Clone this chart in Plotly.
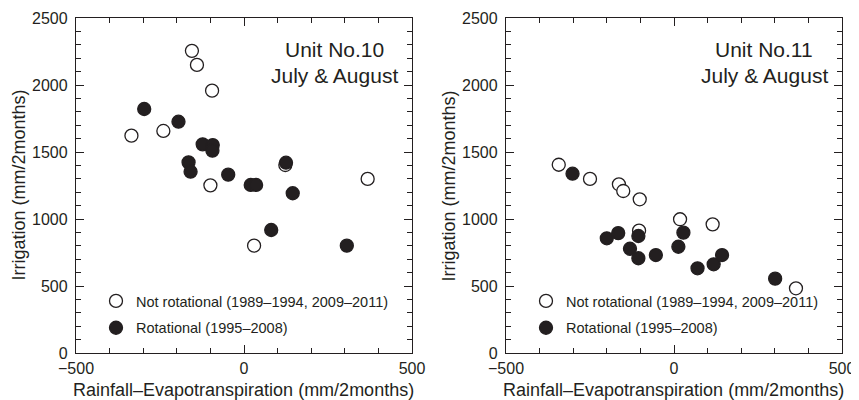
import plotly.graph_objects as go

# Unit No.10
u10_not_x = [-155, -140, -95, -335, -240, -100, 123, 368, 30]
u10_not_y = [2255, 2150, 1958, 1622, 1657, 1251, 1403, 1299, 801]
u10_rot_x = [-297, -195, -123, -93, -94, -165, -159, -47, 20, 36, 125, 145, 81, 306]
u10_rot_y = [1821, 1726, 1557, 1552, 1510, 1423, 1353, 1331, 1254, 1254, 1420, 1192, 918, 801]

# Unit No.11
u11_not_x = [-343, -250, -164, -151, -102, -104, 18, 115, 363]
u11_not_y = [1405, 1299, 1259, 1209, 1147, 913, 998, 960, 483]
u11_rot_x = [-302, -200, -166, -131, -106, -106, -54, 13, 28, 70, 118, 143, 301]
u11_rot_y = [1338, 856, 895, 778, 873, 707, 731, 793, 898, 632, 662, 731, 555]

titles = [("Unit No.10", "July & August"), ("Unit No.11", "July & August")]
legend_names = ["Not rotational (1989–1994, 2009–2011)", "Rotational (1995–2008)"]
x_title = "Rainfall–Evapotranspiration (mm/2months)"
y_title = "Irrigation (mm/2months)"

FONT = "Liberation Sans, Arial, Helvetica, sans-serif"
INK = "#231f20"
OFF = 8  # page body margin
W, H = 859 - OFF, 400 - OFF


def px(xp):
    return (xp - OFF) / W


def py(yp):
    return 1 - (yp - OFF) / H


fig = go.Figure()


def add_panel(i, nx, ny, rx, ry):
    xa = "x" if i == 0 else "x2"
    ya = "y" if i == 0 else "y2"
    lg = "legend" if i == 0 else "legend2"
    fig.add_trace(go.Scatter(
        x=nx, y=ny, mode="markers", name=legend_names[0], xaxis=xa, yaxis=ya,
        legend=lg, legendgroup=f"a{i}",
        marker=dict(size=13, color="white", line=dict(color=INK, width=1.3))))
    fig.add_trace(go.Scatter(
        x=rx, y=ry, mode="markers", name=legend_names[1], xaxis=xa, yaxis=ya,
        legend=lg, legendgroup=f"b{i}",
        marker=dict(size=13, color=INK, line=dict(color=INK, width=1.3))))


add_panel(0, u10_not_x, u10_not_y, u10_rot_x, u10_rot_y)
add_panel(1, u11_not_x, u11_not_y, u11_rot_x, u11_rot_y)

frames_px = [(76, 412), (506, 842)]
x_domains = [[px(a), px(b)] for a, b in frames_px]
y_domain = [py(353), py(18)]

axis_common = dict(
    showline=True, linecolor=INK, linewidth=1.3, mirror="ticks",
    ticks="inside", ticklen=8, tickwidth=1.3, tickcolor=INK,
    showgrid=False, zeroline=False,
    tickfont=dict(family=FONT, size=16, color=INK),
    minor=dict(ticks="inside", ticklen=5, tickwidth=1.3, tickcolor=INK, showgrid=False),
)

layout = dict(
    width=W, height=H, margin=dict(l=0, r=0, t=0, b=0),
    paper_bgcolor="white", plot_bgcolor="white",
    font=dict(family=FONT, color=INK),
    showlegend=True,
)
for i in range(2):
    sx = "" if i == 0 else "2"
    layout["xaxis" + sx] = dict(axis_common, domain=x_domains[i], range=[-500, 500],
                                dtick=500, tick0=0, minor_dtick=100,
                                anchor="y" + sx, automargin=False, ticklabelstandoff=1)
    layout["yaxis" + sx] = dict(axis_common, domain=y_domain, range=[0, 2500],
                                dtick=500, tick0=0, minor_dtick=100,
                                anchor="x" + sx, automargin=False, ticklabelstandoff=4)
    leg = dict(x=px(frames_px[i][0] + 20), y=py(285),
               xanchor="left", yanchor="top", bgcolor="rgba(0,0,0,0)",
               font=dict(family=FONT, size=14.5, color=INK),
               traceorder="grouped", tracegroupgap=5, borderwidth=0)
    layout["legend" if i == 0 else "legend2"] = leg

fig.update_layout(**layout)

ann = []
for i in range(2):
    left, right = frames_px[i]
    ann.append(dict(text=titles[i][0], x=px(right - 78), y=py(50), xref="paper", yref="paper",
                    xanchor="center", yanchor="middle", showarrow=False,
                    font=dict(family=FONT, size=21, color=INK)))
    ann.append(dict(text=titles[i][1], x=px(right - 78), y=py(76), xref="paper", yref="paper",
                    xanchor="center", yanchor="middle", showarrow=False,
                    font=dict(family=FONT, size=21, color=INK)))
    ann.append(dict(text=x_title, x=px((left + right) / 2 - 1), y=py(390), xref="paper", yref="paper",
                    xanchor="center", yanchor="middle", showarrow=False,
                    font=dict(family=FONT, size=18, color=INK)))
    ann.append(dict(text=y_title, x=px(left - 58), y=py((18 + 353) / 2),
                    xref="paper", yref="paper", textangle=-90,
                    xanchor="center", yanchor="middle", showarrow=False,
                    font=dict(family=FONT, size=18, color=INK)))
fig.update_layout(annotations=ann)

fig.write_html("out.html")
